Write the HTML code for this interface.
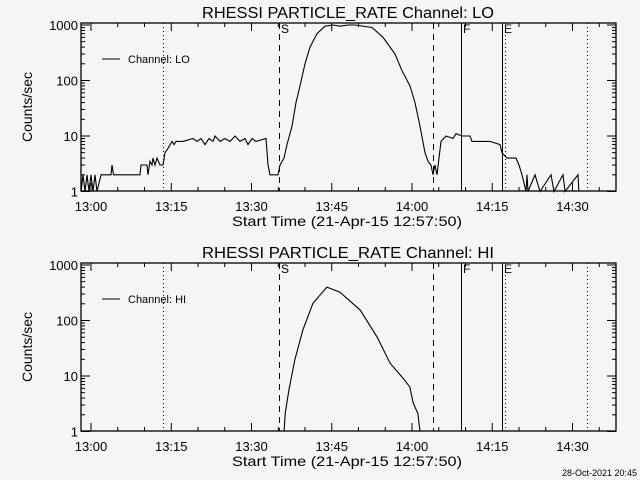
<!DOCTYPE html>
<html><head><meta charset="utf-8"><style>
html,body{margin:0;padding:0;background:#f5f5f5;}
svg{display:block;font-family:"Liberation Sans",sans-serif;}
</style></head><body>
<svg id="c" width="640" height="480"></svg>
<script>
const loTimes=[-1.87,-1.5,-1.12,-0.75,-0.37,0,0.37,0.75,1.12,1.87,3.74,3.93,4.2,9.16,9.35,10.47,10.65,11.03,11.4,11.59,11.96,12.34,12.9,13.46,13.83,14.39,15.14,15.51,15.89,17.2,19.07,19.81,20.56,21.31,22.06,22.8,23.18,24.11,25.05,25.98,26.92,27.85,28.79,29.35,30.09,30.84,32.71,33.08,33.46,34.95,35.33,36.07,36.64,37.57,38.32,39.07,40,40.93,42.24,43.74,45.23,46.54,48.04,49.35,52.52,54.58,56.82,58.13,59.63,60.56,61.5,62.43,62.99,63.55,63.93,64.3,64.67,65.42,66.36,67.66,68.22,69.35,70.84,71.21,74.58,76.45,76.82,77.76,79.44,80,80.56,81.31,81.5,81.68,83,83.93,85.98,86.54,88.22,88.6,91.03,91.2];
const loValues=[1,2,1,2,1,2,1,2,1,2,2,3,2,2,3,3,2,3.5,3,4,3,4,3,3,5,6,8,7,8,8,9,8,9,7,9,8,10,8,9,8,10,8,9,7,9,8,9,3,2,2,3,4,7,15,40,80,200,400,700,950,1000,950,1000,1000,900,600,300,150,80,40,15,5,3.5,3,2,3,2,8,10,9,11,10,10,8,8,7,5,4,4,3,2,1,2,1,2,1,2,1,2,1,2,1];
const hiTimes=[36.1,36.3,37.0,38.1,39.6,41.5,44.1,46.5,50.3,53.5,55.9,58.3,59.6,60.2,61.1,61.5];
const hiValues=[0.9,2.1,5.6,19.5,68,205,400,325,155,50,17,9.2,6.3,3.3,2.1,0.9];
const xTickLabels=["13:00","13:15","13:30","13:45","14:00","14:15","14:30"];
const xTickMinutes=[0,15,30,45,60,75,90];
const yTickLabels=["1","10","100","1000"];
const yTickValues=[1,10,100,1000];
const vlineMinutes=[13.46,35.1,63.9,69.2,76.8,77.4,92.7];

const NS="http://www.w3.org/2000/svg";
const svg=document.getElementById('c');
function mk(t,a,p){const e=document.createElementNS(NS,t);for(const k in a)e.setAttribute(k,a[k]);(p||svg).appendChild(e);return e;}
const X0=81,X1=616;
function xs(m){return 91+m*5.35;}
function panel(top,name,times,values,ch){
  const bot=top+168;
  function ys(v){return bot+0.5-Math.log10(Math.max(v,1))*55.5;}
  const g=mk('g',{});
  
  
  const t=mk('text',{x:348,y:top-5,'text-anchor':'middle','font-size':16,textLength:292,lengthAdjust:'spacingAndGlyphs'},g);
  t.textContent='RHESSI PARTICLE_RATE Channel: '+ch;
  
  
  const fr=mk('rect',{x:X0,y:top,width:X1-X0,height:bot-top,fill:'none',stroke:'#000','stroke-width':1.3},g);
  
  
  // y ticks
  for(let d=0;d<4;d++){for(let k=1;k<10;k++){const v=Math.pow(10,d)*k;const y=ys(v);if(y<top)continue;const L=k==1?9:4;
    mk('line',{x1:X0,y1:y,x2:X0+L,y2:y,stroke:'#000'},g);mk('line',{x1:X1,y1:y,x2:X1-L,y2:y,stroke:'#000'},g);}}
  yTickValues.forEach((v,i)=>{const tt=mk('text',{x:X0-3,y:ys(v)+5,'text-anchor':'end','font-size':13},g);tt.textContent=yTickLabels[i];
    
    });
  // x ticks
  for(let m=-0;m<=95;m+=5){const x=xs(m);if(x>X1)break;const L=m%15==0?8:4;
    mk('line',{x1:x,y1:bot,x2:x,y2:bot-L,stroke:'#000'},g);mk('line',{x1:x,y1:top,x2:x,y2:top+L,stroke:'#000'},g);}
  xTickMinutes.forEach((m,i)=>{const tt=mk('text',{x:xs(m),y:bot+20,'text-anchor':'middle','font-size':13},g);tt.textContent=xTickLabels[i];
    
    });
  const xl=mk('text',{x:347,y:bot+35,'text-anchor':'middle','font-size':14,textLength:230,lengthAdjust:'spacingAndGlyphs'},g);
  xl.textContent='Start Time (21-Apr-15 12:57:50)';
  
  
  const yl=mk('text',{x:0,y:0,'text-anchor':'middle','font-size':14,transform:`translate(32,${(top+bot)/2}) rotate(-90)`},g);
  yl.textContent='Counts/sec';
  
  
  // vertical lines
  const styles=['1,3','6,5','6,5',null,null,'1,3','1,3'];
  vlineMinutes.forEach((m,i)=>{const x=Math.round(xs(m))+0.5;const a={x1:x,y1:top,x2:x,y2:bot,stroke:'#000'};if(styles[i])a['stroke-dasharray']=styles[i];
    const l=mk('line',a,g);});
  [['S',1],['F',3],['E',4]].forEach(([s,i])=>{const tt=mk('text',{x:Math.round(xs(vlineMinutes[i]))+2,y:top+10,'font-size':12},g);tt.textContent=s;
    
    });
  // legend
  const ll=mk('line',{x1:102,y1:top+36,x2:120,y2:top+36,stroke:'#000'},g);
  
  const lt=mk('text',{x:128,y:top+40,'font-size':11},g);lt.textContent='Channel: '+ch;
  
  // series
  let d='';times.forEach((m,i)=>{d+=(i?'L':'M')+xs(m).toFixed(1)+','+ys(values[i]).toFixed(1);});
  const p=mk('path',{d:d,fill:'none',stroke:'#000','stroke-width':1.1},g);
  
  
}
panel(23,'lo',loTimes,loValues,'LO');
panel(263,'hi',hiTimes,hiValues,'HI');
const ds=mk('text',{x:637,y:476,'text-anchor':'end','font-size':9});
ds.textContent='28-Oct-2021 20:45';


</script>
</body></html>
